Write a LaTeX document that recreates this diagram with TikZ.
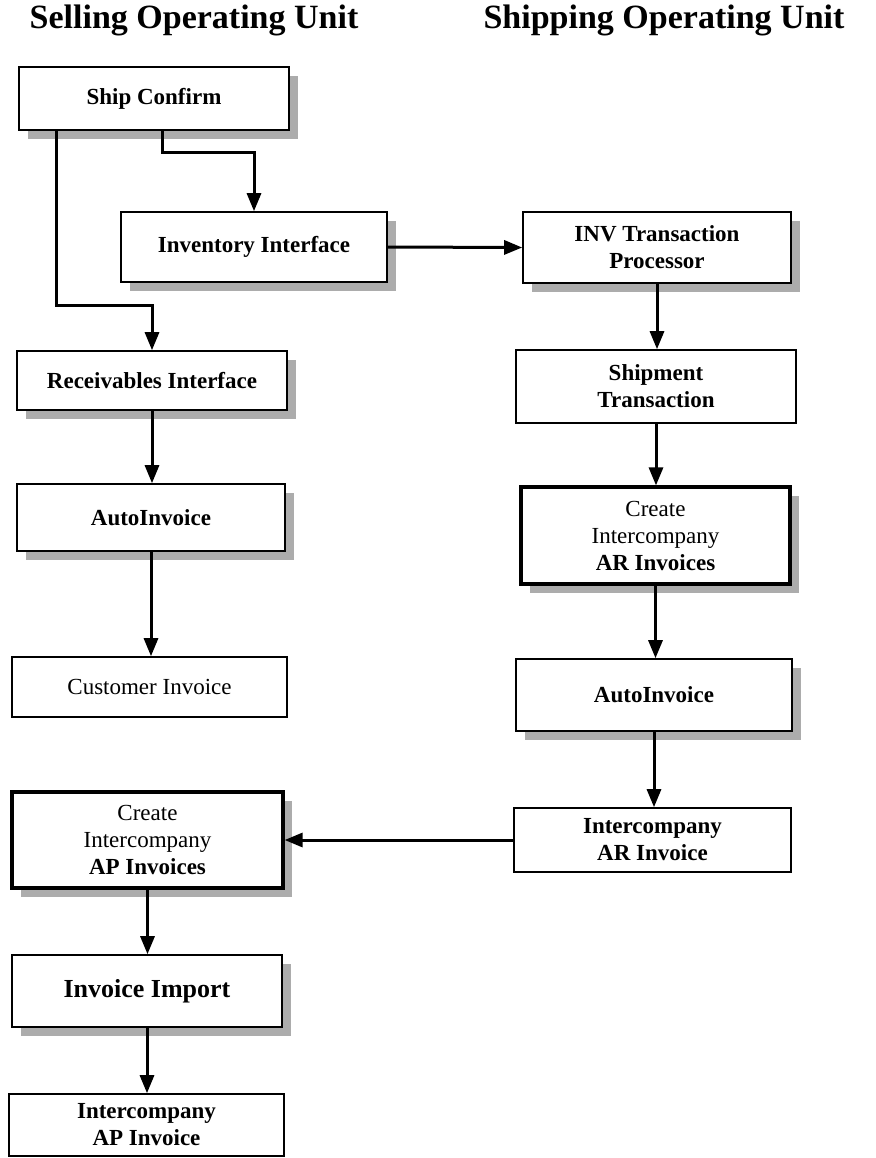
\documentclass[tikz,border=0pt]{standalone}
\usepackage{fontspec}
\setmainfont{Liberation Serif}
\usetikzlibrary{positioning,shadows,arrows.meta}

\tikzset{
  unit/.style={draw, line width=0.8pt, fill=white, align=center, inner sep=2pt,
    minimum width=135pt, font=\fontsize{11.5}{13.5}\selectfont\bfseries},
  shade/.style={drop shadow={shadow xshift=4.5pt, shadow yshift=-4.5pt, fill=gray!65, opacity=1}},
  heavy/.style={line width=1.6pt},
  flow/.style={line width=1.5pt, -{Triangle[length=9pt,width=7pt]}},
  heading/.style={font=\fontsize{17}{20}\selectfont\bfseries}
}

\begin{document}
\begin{tikzpicture}[x=0.5pt,y=-0.5pt]
\useasboundingbox (0,0) rectangle (876,1158);
% column titles
\node[heading] (sell) at (194,20) {Selling Operating Unit};
\node[heading] (ship) at (664,20) {Shipping Operating Unit};
% selling side
\node[unit,shade,minimum height=31.5pt] (sc) at (154,98.5) {Ship Confirm};
\node[unit,shade,minimum width=133pt,minimum height=35pt] (ii) at (254,247) {Inventory Interface};
\node[unit,shade,minimum height=29.5pt] (ri) at (152,380.5) {Receivables Interface};
\node[unit,shade,minimum width=134pt,minimum height=33.5pt] (ail) at (151,517.5) {AutoInvoice};
\node[unit,minimum width=137.5pt,minimum height=30pt] (ci) at (149.5,687) {\mdseries Customer Invoice};
\node[unit,shade,heavy,minimum width=135.5pt,minimum height=48pt] (cap) at (147.5,840) {\mdseries Create\\\mdseries Intercompany\\AP Invoices};
\node[unit,shade,minimum height=36pt,font=\fontsize{13}{15}\selectfont\bfseries] (imp) at (147,991) {Invoice Import};
\node[unit,minimum width=137.5pt,minimum height=31pt] (iap) at (146.5,1125) {Intercompany\\AP Invoice};
% shipping side
\node[unit,shade,minimum width=134pt,minimum height=35.5pt] (itp) at (657,247.5) {INV Transaction\\Processor};
\node[unit,minimum width=140pt,minimum height=36.5pt] (st) at (656,386.5) {Shipment\\Transaction};
\node[unit,shade,heavy,minimum width=134.5pt,minimum height=48.5pt] (car) at (655.5,535.5) {\mdseries Create\\\mdseries Intercompany\\AR Invoices};
\node[unit,shade,minimum width=138pt,minimum height=36pt] (air) at (654,695) {AutoInvoice};
\node[unit,minimum width=138.5pt,minimum height=32pt] (iar) at (652.5,840) {Intercompany\\AR Invoice};
% flows
\draw[flow] ([xshift=19pt]sc.south west) -- ++(0,175) -| (ri.north);
\draw[flow] ([xshift=72pt]sc.south west) -- ++(0,22) -| (ii.north);
\draw[flow] (ii.east) -- (itp.west);
\draw[flow] (itp.south) -- (itp.south |- st.north);
\draw[flow] (st.south) -- (st.south |- car.north);
\draw[flow] (car.south) -- (car.south |- air.north);
\draw[flow] (air.south) -- (air.south |- iar.north);
\draw[flow] (iar.west) -- (cap.east);
\draw[flow] (ri.south) -- (ri.south |- ail.north);
\draw[flow] (ail.south) -- (ail.south |- ci.north);
\draw[flow] (cap.south) -- (cap.south |- imp.north);
\draw[flow] (imp.south) -- (imp.south |- iap.north);
\end{tikzpicture}
\end{document}
